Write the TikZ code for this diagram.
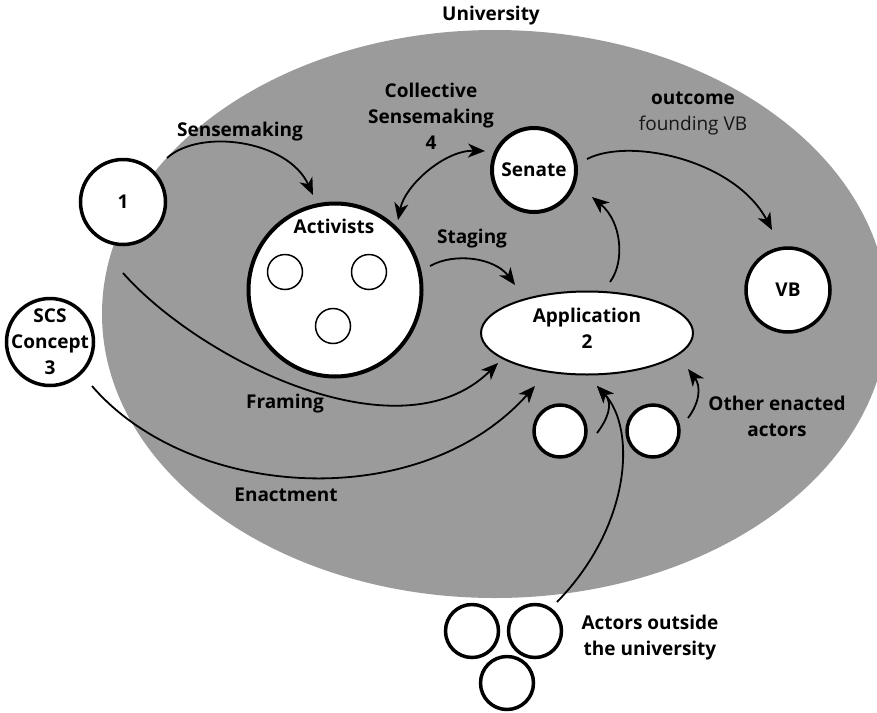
\documentclass[tikz,border=0pt]{standalone}
\usepackage{fontspec}
\setmainfont{Open Sans}
\usetikzlibrary{arrows.meta,calc,shapes.geometric}
\definecolor{uniGrey}{RGB}{155,155,155}
\definecolor{noteGrey}{RGB}{22,22,22}

\begin{document}
\begin{tikzpicture}[x=1pt,y=-1pt,
  >={Stealth[length=17pt,width=14pt,inset=5pt]},
  every node/.style={font=\fontsize{19}{26}\selectfont\bfseries},
  actor/.style={circle,draw,line width=3.5pt,fill=white,inner sep=0pt},
  member/.style={circle,draw,line width=1.5pt,fill=white,inner sep=0pt,minimum size=35pt},
  caption/.style={align=center,inner sep=0pt},
  flow/.style={line width=1.8pt,->},
  twoway/.style={line width=1.8pt,<->}
]
\useasboundingbox (0,0) rectangle (877,712);
\clip (0,0) rectangle (877,712);

% the university
\fill[uniGrey] (495,314) ellipse [x radius=393pt, y radius=284pt];
\node[caption] (uni) at (491,16) {University};

% actors
\node[actor,minimum size=85pt] (one) at (123,202) {1};
\node[actor,minimum size=173pt,line width=4pt] (act) at (335,290) {};
\node[caption] (actText) at ($(act)+(-1,-64)$) {Activists};
\node[member] (m1) at (285,272) {};
\node[member] (m2) at (369,272) {};
\node[member] (m3) at (333,326) {};
\node[actor,minimum size=84pt,line width=4pt] (senate) at (534,170) {Senate};
\node[actor,minimum size=84pt] (vb) at (788,290) {VB};
\node[actor,minimum size=87pt] (scs) at (50,342) {};
\node[caption] (scsText) at (scs) {SCS\\Concept\\3};
\node[ellipse,draw,line width=2pt,fill=white,minimum width=212pt,minimum height=83pt,inner sep=0pt] (app) at (587,333) {};
\node[caption] (appText) at ($(app)+(0,-5)$) {Application\\2};
\node[actor,minimum size=52pt] (ea) at (560,431) {};
\node[actor,minimum size=52pt] (eb) at (653,431) {};
\node[actor,minimum size=53pt] (oa) at (472,631) {};
\node[actor,minimum size=53pt] (ob) at (535,631) {};
\node[actor,minimum size=53pt] (oc) at (507,683) {};

% labels
\node[caption] (lSense) at (240,132) {Sensemaking};
\node[caption] (lColl) at (431,116) {Collective\\Sensemaking\\4};
\node[caption] (lOut) at (693,113) {outcome\\{\mdseries\color{noteGrey}founding VB}};
\node[caption] (lStage) at (472,239) {Staging};
\node[caption] (lFrame) at (285,404) {Framing};
\node[caption] (lEnact) at (286,495) {Enactment};
\node[caption] (lOther) at (777,416) {Other enacted\\actors};
\node[caption] (lOutside) at (650,638) {Actors outside\\the university};

% connectors
\draw[flow] ($(one)+(44,-44)$) .. controls (200,128) and (288,140) .. ($(act)+(-22,-95)$);
\draw[twoway] ($(act)+(63,-70)$) .. controls (405,185) and (445,150) .. ($(senate)+(-49,-19)$);
\draw[flow] ($(senate)+(53,-11)$) .. controls (630,137) and (735,160) .. ($(vb)+(-16,-60)$);
\draw[flow] ($(act)+(95,-24)$) .. controls (455,252) and (495,258) .. ($(app)+(-72,-48)$);
\draw[flow] ($(app)+(23,-51)$) .. controls (625,262) and (622,222) .. ($(senate)+(58,27)$);
\draw[flow] ($(one)+(0,71)$) .. controls (200,360) and (400,460) .. ($(app)+(-89,30)$);
\draw[flow] ($(scs)+(42,44)$) .. controls (190,500) and (420,515) .. ($(app)+(-52,53)$);
\draw[flow] ($(ea)+(37,2)$) .. controls (607,420) and (614,404) .. ($(app)+(10,53)$);
\draw[flow] ($(ob)+(22,-29)$) .. controls (632,525) and (636,428) .. ($(app)+(10,53)$);
\draw[flow] ($(eb)+(35,-13)$) .. controls (700,402) and (701,386) .. ($(app)+(101,36)$);
\end{tikzpicture}
\end{document}
